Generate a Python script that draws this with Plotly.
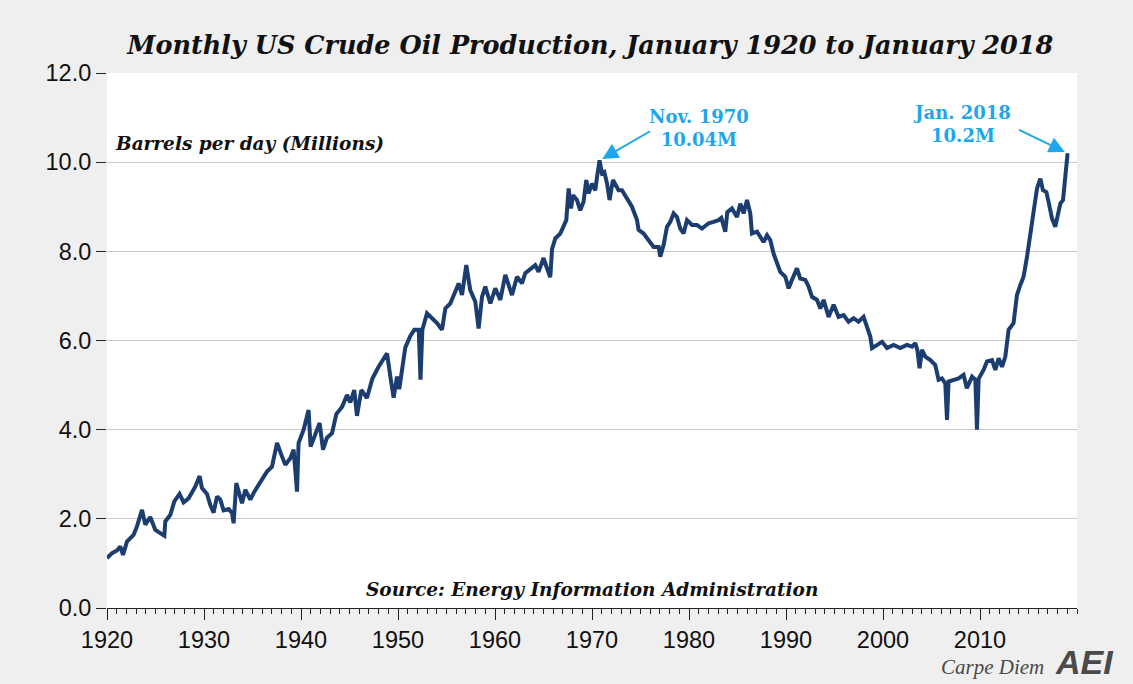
import plotly.graph_objects as go

# Decimal year positions (as read against the chart's year axis) and output (million barrels/day)
years = [
    1920.00, 1920.52, 1921.03, 1921.37, 1921.65, 1922.06, 1922.74, 1923.09, 1923.61, 1923.95,
    1924.46, 1924.98, 1925.49, 1925.91, 1926.01, 1926.53, 1926.94, 1927.48, 1927.90, 1928.41,
    1929.10, 1929.55, 1929.79, 1930.31, 1930.65, 1930.99, 1931.34, 1931.68, 1932.02, 1932.54,
    1932.89, 1933.05, 1933.33, 1933.67, 1933.92, 1934.26, 1934.77, 1935.19, 1935.80, 1936.49,
    1937.01, 1937.53, 1938.04, 1938.38, 1938.90, 1939.24, 1939.59, 1939.75, 1940.27, 1940.78,
    1940.99, 1941.47, 1941.92, 1942.27, 1942.68, 1943.20, 1943.64, 1944.23, 1944.74, 1945.08,
    1945.49, 1945.77, 1946.22, 1946.80, 1947.35, 1948.00, 1948.38, 1948.87, 1949.26, 1949.55,
    1949.90, 1950.13, 1950.49, 1950.75, 1951.27, 1951.68, 1952.14, 1952.32, 1952.51, 1952.99,
    1953.51, 1954.02, 1954.54, 1954.88, 1955.39, 1955.91, 1956.25, 1956.60, 1957.04, 1957.45,
    1957.97, 1958.31, 1958.66, 1959.00, 1959.52, 1960.03, 1960.55, 1961.06, 1961.40, 1961.75,
    1962.27, 1962.78, 1963.12, 1963.64, 1964.15, 1964.49, 1965.01, 1965.36, 1965.70, 1965.88,
    1966.22, 1966.73, 1967.07, 1967.35, 1967.59, 1967.84, 1968.04, 1968.45, 1968.79, 1969.13,
    1969.41, 1969.65, 1970.00, 1970.34, 1970.52, 1970.78, 1971.03, 1971.27, 1971.55, 1971.81,
    1972.16, 1972.51, 1972.74, 1973.09, 1973.61, 1974.12, 1974.64, 1974.80, 1975.32, 1975.84,
    1976.35, 1976.87, 1977.04, 1977.38, 1977.73, 1978.07, 1978.41, 1978.76, 1979.10, 1979.44,
    1979.79, 1980.31, 1980.82, 1981.34, 1982.02, 1982.54, 1983.05, 1983.33, 1983.74, 1983.95,
    1984.43, 1984.95, 1985.29, 1985.63, 1985.98, 1986.32, 1986.49, 1987.01, 1987.35, 1987.69,
    1988.04, 1988.38, 1988.72, 1989.07, 1989.41, 1989.93, 1990.27, 1990.62, 1991.13, 1991.47,
    1991.99, 1992.33, 1992.68, 1993.20, 1993.54, 1993.88, 1994.39, 1994.91, 1995.42, 1995.94,
    1996.45, 1996.97, 1997.48, 1998.00, 1998.35, 1998.69, 1998.87, 1999.38, 1999.90, 2000.41,
    2001.09, 2001.78, 2002.47, 2002.99, 2003.33, 2003.54, 2003.77, 2004.02, 2004.36, 2004.88,
    2005.39, 2005.73, 2006.08, 2006.42, 2006.60, 2006.76, 2007.28, 2007.79, 2008.31, 2008.64,
    2009.18, 2009.52, 2009.69, 2009.86, 2010.37, 2010.72, 2011.24, 2011.58, 2011.92, 2012.27,
    2012.61, 2012.95, 2013.46, 2013.81, 2014.15, 2014.49, 2014.85, 2015.08, 2015.26, 2015.60,
    2015.88, 2016.22, 2016.49, 2016.84, 2017.07, 2017.42, 2017.76, 2018.00, 2018.28, 2018.56,
    2018.79, 2019.03,
]
production = [
    1.12, 1.23, 1.29, 1.38, 1.19, 1.49, 1.64, 1.83, 2.20, 1.87,
    2.04, 1.75, 1.68, 1.62, 1.94, 2.09, 2.39, 2.56, 2.37, 2.46,
    2.72, 2.96, 2.69, 2.56, 2.31, 2.14, 2.50, 2.43, 2.19, 2.22,
    2.13, 1.90, 2.80, 2.50, 2.35, 2.65, 2.43, 2.61, 2.84, 3.06,
    3.17, 3.70, 3.40, 3.21, 3.36, 3.55, 2.61, 3.70, 4.00, 4.44,
    3.62, 3.88, 4.15, 3.55, 3.82, 3.92, 4.35, 4.51, 4.78, 4.61,
    4.89, 4.31, 4.89, 4.71, 5.14, 5.41, 5.54, 5.71, 5.12, 4.72,
    5.19, 4.91, 5.45, 5.84, 6.10, 6.24, 6.24, 5.12, 6.24, 6.61,
    6.50, 6.39, 6.24, 6.72, 6.83, 7.09, 7.28, 7.02, 7.69, 7.13,
    6.87, 6.27, 6.98, 7.21, 6.83, 7.17, 6.91, 7.47, 7.21, 7.02,
    7.43, 7.28, 7.51, 7.60, 7.69, 7.54, 7.85, 7.62, 7.42, 8.05,
    8.29, 8.40, 8.59, 8.70, 9.41, 8.96, 9.26, 9.15, 8.92, 9.11,
    9.60, 9.30, 9.52, 9.37, 9.67, 10.04, 9.75, 9.78, 9.52, 9.15,
    9.60, 9.48, 9.37, 9.37, 9.19, 9.00, 8.70, 8.48, 8.40, 8.25,
    8.10, 8.10, 7.88, 8.14, 8.55, 8.66, 8.85, 8.77, 8.51, 8.40,
    8.70, 8.59, 8.59, 8.51, 8.63, 8.66, 8.70, 8.75, 8.44, 8.88,
    8.96, 8.77, 9.07, 8.85, 9.15, 8.85, 8.40, 8.44, 8.33, 8.21,
    8.36, 8.25, 7.95, 7.77, 7.54, 7.43, 7.17, 7.36, 7.62, 7.39,
    7.36, 7.21, 6.98, 6.91, 6.72, 6.91, 6.53, 6.80, 6.53, 6.57,
    6.42, 6.50, 6.42, 6.53, 6.31, 6.09, 5.83, 5.90, 5.97, 5.83,
    5.90, 5.83, 5.90, 5.86, 5.94, 5.79, 5.38, 5.79, 5.64, 5.56,
    5.45, 5.12, 5.15, 5.04, 4.22, 5.08, 5.12, 5.15, 5.23, 4.93,
    5.19, 5.12, 4.00, 5.14, 5.34, 5.53, 5.56, 5.34, 5.60, 5.41,
    5.64, 6.24, 6.39, 7.02, 7.24, 7.43, 7.88, 8.25, 8.59, 9.00,
    9.41, 9.63, 9.37, 9.33, 9.11, 8.74, 8.55, 8.85, 9.07, 9.15,
    9.75, 10.20,
]

y_ticks = [0, 2, 4, 6, 8, 10, 12]
x_ticks = [1920, 1930, 1940, 1950, 1960, 1970, 1980, 1990, 2000, 2010]

title_text = "Monthly US Crude Oil Production, January 1920 to January 2018"
unit_text = "Barrels per day (Millions)"
source_text = "Source: Energy Information Administration"
peak_label = "Nov. 1970<br>10.04M"
last_label = "Jan. 2018<br>10.2M"

LINE = "#1b3d6f"
BLUE = "#1ea6ec"
SERIF = "DejaVu Serif, Liberation Serif, serif"
SANS = "Liberation Sans, Arial, sans-serif"

peak_i = production.index(max(production[:200]))
last_i = len(production) - 1

fig = go.Figure()
fig.add_trace(go.Scatter(
    x=years, y=production, mode="lines",
    line=dict(color=LINE, width=4),
    hoverinfo="skip", showlegend=False,
))

fig.update_layout(
    width=1133, height=684,
    paper_bgcolor="#efefef", plot_bgcolor="#ffffff",
    margin=dict(l=107, r=56, t=73, b=76),
    title=dict(text="<b><i>" + title_text + "</i></b>", x=0.521, xanchor="center",
               y=0.934, yanchor="middle",
               font=dict(family=SERIF, size=25.5, color="#111111")),
    xaxis=dict(range=[1920, 2020], tickvals=x_ticks, ticktext=[str(v) for v in x_ticks],
               showgrid=False, zeroline=False, showline=True, linecolor="#222222", linewidth=1,
               ticks="outside", ticklen=11, tickcolor="#222222", tickwidth=1,
               minor=dict(dtick=1, tick0=1920, ticks="outside", ticklen=5, tickcolor="#222222",
                          showgrid=False),
               tickfont=dict(family=SANS, size=23.5, color="#111111")),
    yaxis=dict(range=[0, 12], tickvals=y_ticks, ticktext=[f"{v:.1f}" for v in y_ticks],
               showgrid=True, gridcolor="#c8c8c8", gridwidth=1, zeroline=False,
               showline=False, ticks="outside", ticklen=10, tickcolor="#222222",
               tickfont=dict(family=SANS, size=23.5, color="#111111")),
)

annotations = [
    dict(text="<b><i>" + unit_text + "</i></b>", xref="paper", yref="paper", x=0.006, y=0.869,
         xanchor="left", yanchor="middle", showarrow=False,
         font=dict(family=SERIF, size=18.5, color="#111111")),
    dict(text="<b><i>" + source_text + "</i></b>", xref="paper", yref="paper", x=0.5, y=0.034,
         xanchor="center", yanchor="middle", showarrow=False,
         font=dict(family=SERIF, size=18.5, color="#111111")),
    dict(text="<b>" + peak_label + "</b>", xref="paper", yref="paper", x=0.610, y=0.897,
         xanchor="center", yanchor="middle", showarrow=False, align="center",
         font=dict(family=SERIF, size=18, color=BLUE)),
    dict(text="<b>" + last_label + "</b>", xref="paper", yref="paper", x=0.881, y=0.905,
         xanchor="center", yanchor="middle", showarrow=False, align="center",
         font=dict(family=SERIF, size=18, color=BLUE)),
    # arrows
    dict(x=years[peak_i], y=production[peak_i], xref="x", yref="y", text="",
         showarrow=True, arrowhead=2, arrowsize=1.6, arrowwidth=2, arrowcolor=BLUE,
         ax=52, ay=-30, standoff=3),
    dict(x=years[last_i], y=production[last_i], xref="x", yref="y", text="",
         showarrow=True, arrowhead=2, arrowsize=1.6, arrowwidth=2, arrowcolor=BLUE,
         ax=-50, ay=-24, standoff=3),
    dict(text="<i>Carpe Diem</i>", xref="paper", yref="paper", x=0.913, y=-0.110,
         xanchor="center", yanchor="middle", showarrow=False,
         font=dict(family="Liberation Serif, serif", size=21, color="#4a4a4a")),
    dict(text="<b><i>AEI</i></b>", xref="paper", yref="paper", x=1.008, y=-0.100,
         xanchor="center", yanchor="middle", showarrow=False,
         font=dict(family=SANS, size=34, color="#4a4a4a")),
]
fig.update_layout(annotations=annotations)

fig.write_html("out.html", config={"displayModeBar": False},
               post_script="document.body.style.margin='0';document.body.style.overflow='hidden';")
